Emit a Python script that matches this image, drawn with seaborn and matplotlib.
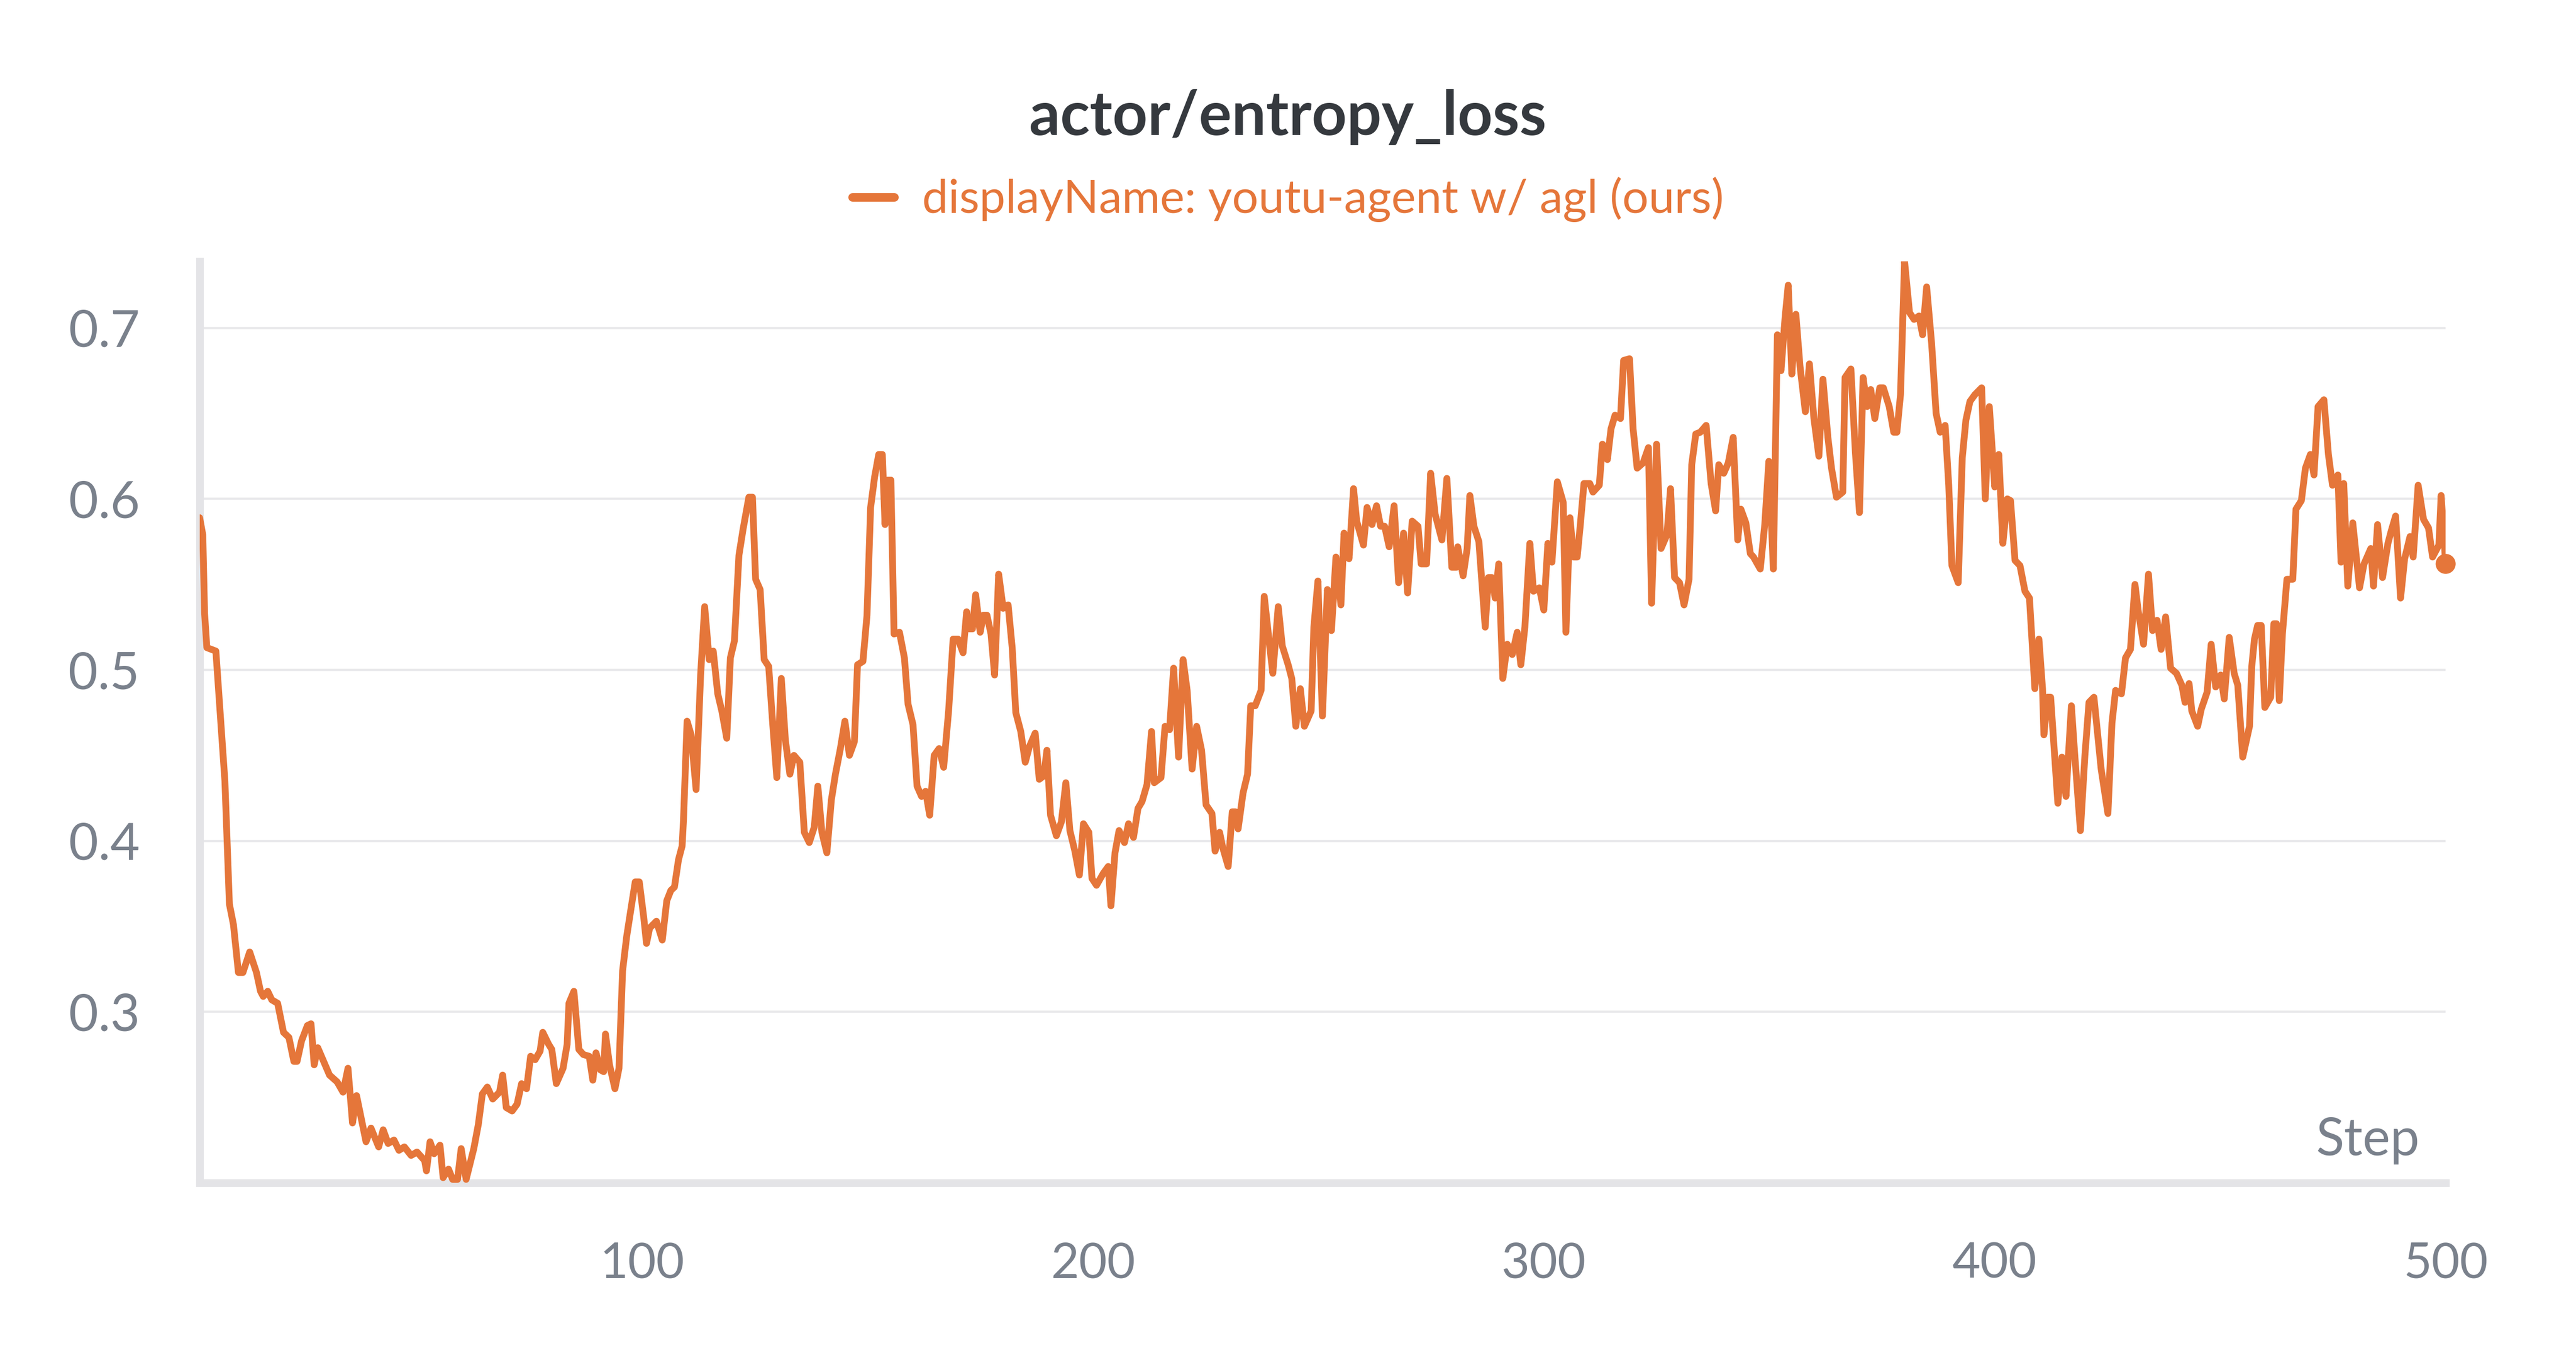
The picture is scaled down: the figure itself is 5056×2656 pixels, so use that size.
import matplotlib
matplotlib.use("Agg")
import matplotlib.pyplot as plt
import pandas as pd
import seaborn as sns

# ---------------- data ----------------
title_text = "actor/entropy_loss"
series_label = "displayName: youtu-agent w/ agl (ours)"
x_axis_label = "Step"

steps = [
    1.9, 2.6, 3.0, 3.5, 4.5, 5.5, 7.5, 8.5, 9.4, 10.5, 11.5, 13.0, 14.5, 15.4, 16.0, 17.0, 17.9, 19.2,
    20.5, 21.7, 22.8, 23.5, 24.5, 25.8, 26.6, 27.3, 28.1, 29.4, 30.7, 32.4, 33.7, 34.8, 35.8, 36.7,
    38.8, 39.9, 41.6, 42.6, 43.7, 45.0, 46.1, 47.3, 48.8, 50.1, 51.8, 52.2, 53.0,
    53.9, 55.2, 55.9, 57.1, 58.0, 59.1, 59.9, 61.0, 62.7, 63.7, 64.6, 65.7, 66.9, 68.4, 69.1, 69.9,
    71.2, 72.3, 73.3, 74.4, 75.3, 76.3, 77.4, 78.0, 79.3, 80.0, 81.0, 82.5, 83.4, 83.8, 84.9, 86.0,
    87.0, 88.3, 89.1, 89.8, 90.8, 91.5, 91.9, 92.8, 94.0, 94.9, 95.7, 96.6, 97.6, 98.5, 99.4, 100.4,
    101.0, 101.7, 103.2, 104.5, 105.5,
    106.4, 107.2, 108.1, 108.9, 109.2, 110.0, 110.9, 112.0, 113.0, 113.9, 114.9, 115.8, 116.8, 117.7,
    118.8, 119.6, 120.5, 121.5, 122.4, 123.7, 124.5, 125.2, 126.2, 127.1, 128.1, 129.0, 129.9, 130.9,
    131.8, 132.8, 133.7, 135.0, 136.0, 137.1, 138.2, 139.0, 139.9, 141.0, 142.0, 142.9, 144.0, 145.0,
    146.0, 147.1, 147.8, 149.0, 149.9, 150.7,
    151.6, 152.5, 153.3, 153.9, 154.4, 155.2, 155.9, 157.1, 158.2, 159.0, 160.1, 161.0, 162.0, 162.9,
    163.8, 164.8, 165.9, 166.9, 168.0, 169.0, 170.1, 171.2, 172.0, 172.5, 173.3, 174.0, 175.0, 175.7,
    176.5, 177.4, 178.2, 179.1, 180.1, 181.2, 182.1, 182.9, 184.0, 185.0, 185.9, 187.2, 188.1, 189.1,
    189.8, 190.6, 191.9, 193.0, 194.0, 194.9, 196.0, 197.0, 197.9, 199.1, 199.8, 200.8,
    202.3, 203.4, 204.0, 204.9, 205.8, 207.0, 207.9, 209.0, 210.0, 210.9, 212.0, 213.0, 213.6, 215.1,
    216.0, 217.0, 217.9, 219.0, 220.0, 220.9, 222.0, 223.0, 224.1, 225.1, 226.4, 227.1, 228.1, 228.8,
    230.0, 230.9, 231.6, 232.2, 233.3, 234.3, 235.0, 236.0, 237.3, 238.0, 239.2, 239.9, 241.1, 242.0,
    243.3, 244.1, 245.0, 246.0, 246.9, 248.4, 249.0, 249.9, 250.9, 252.0, 252.9, 253.9, 255.0,
    255.7, 256.8, 257.8, 258.5, 260.0, 260.8, 261.9, 262.9, 263.8, 264.7, 265.7, 266.8, 267.8, 268.9,
    269.8, 270.8, 272.1, 272.8, 274.0, 274.9, 275.9, 277.4, 278.5, 279.6, 280.6, 280.9, 282.1, 283.0,
    283.6, 284.5, 285.6, 287.0, 287.7, 288.5, 289.2, 290.0, 290.9, 291.9, 293.0, 294.1, 294.9, 295.8,
    296.9, 297.7, 299.0, 300.0, 300.9, 301.8, 303.0,
    304.3, 304.9, 305.8, 306.6, 307.4, 308.1, 308.9, 310.2, 310.9, 312.3, 313.0, 313.6, 314.1, 314.9,
    315.8, 317.0, 317.7, 319.0, 319.8, 320.7, 322.0, 323.2, 323.9, 325.0, 326.0, 327.3, 328.1, 329.0,
    330.1, 331.1, 332.2, 332.8, 333.7, 334.7, 336.0, 337.1, 338.1, 338.8, 339.9, 340.9, 342.0, 343.0,
    343.7, 344.8, 345.8, 346.5, 348.0, 349.0, 349.9, 350.9, 351.8, 352.6, 353.5,
    354.2, 355.0, 355.9, 356.8, 358.0, 358.9, 359.9, 361.0, 361.9, 363.0, 363.8, 364.9, 366.3, 366.8,
    368.1, 369.1, 370.0, 370.8, 371.7, 372.5, 373.4, 374.5, 375.3, 376.6, 377.6, 378.3, 379.1, 380.0,
    381.1, 382.1, 383.2, 384.0, 384.9, 386.0, 387.0, 387.9, 389.0, 389.8, 390.5, 391.9, 392.8, 393.6,
    394.5, 395.6, 397.1, 397.9, 398.8, 400.0, 400.9, 401.8, 402.8, 403.5, 404.5, 405.6, 406.7, 407.7,
    408.9, 409.8, 410.6, 410.9, 411.7, 412.4, 414.0, 414.9, 415.8, 417.0, 417.7, 419.0, 420.0, 420.9,
    422.0, 423.6, 425.1, 426.0, 426.8, 428.1, 429.0, 430.1, 431.1, 431.8, 433.0, 434.1, 435.0, 436.0,
    436.9, 437.9, 439.0, 440.3, 441.5, 442.2, 443.1, 443.7, 445.0, 445.8, 447.1, 448.0, 449.0, 450.1,
    450.9, 452.0, 453.1, 453.9, 455.0,
    456.5, 457.0, 457.6, 458.3, 459.1, 459.9, 461.2, 461.9, 462.5, 463.1, 463.8, 464.8, 466.1, 466.8,
    468.0, 468.9, 470.0, 470.8, 471.7, 473.0, 474.0, 474.9, 476.1, 476.8, 477.4, 478.3, 479.4, 480.9,
    481.9, 483.4, 484.0, 484.9, 486.0, 487.2, 487.9, 488.9, 490.0, 490.9, 492.1, 492.8, 493.9, 495.1,
    496.2, 497.1, 498.5, 499.0, 500.0,
]

entropy_loss = [
    0.589, 0.579, 0.533, 0.513, 0.512, 0.511, 0.435, 0.363, 0.351, 0.323, 0.323, 0.335, 0.323, 0.312, 0.309, 0.312, 0.307, 0.305,
    0.288, 0.285, 0.271, 0.271, 0.283, 0.292, 0.293, 0.269, 0.279, 0.271, 0.263, 0.259, 0.253, 0.267, 0.235, 0.251,
    0.224, 0.232, 0.221, 0.231, 0.223, 0.225, 0.219, 0.221, 0.216, 0.218, 0.213, 0.207, 0.224,
    0.217, 0.222, 0.203, 0.208, 0.202, 0.202, 0.220, 0.202, 0.220, 0.234, 0.252, 0.256, 0.249, 0.253, 0.263, 0.244,
    0.242, 0.246, 0.258, 0.255, 0.274, 0.272, 0.277, 0.288, 0.281, 0.278, 0.258, 0.267, 0.281, 0.305, 0.312, 0.278,
    0.275, 0.274, 0.260, 0.276, 0.266, 0.265, 0.287, 0.269, 0.255, 0.267, 0.324, 0.344, 0.361, 0.376, 0.376, 0.355,
    0.340, 0.349, 0.353, 0.342, 0.365,
    0.371, 0.373, 0.389, 0.397, 0.412, 0.470, 0.462, 0.430, 0.497, 0.537, 0.506, 0.511, 0.486, 0.476,
    0.460, 0.507, 0.517, 0.567, 0.582, 0.601, 0.601, 0.553, 0.547, 0.506, 0.502, 0.468, 0.437, 0.495,
    0.459, 0.439, 0.450, 0.446, 0.405, 0.399, 0.408, 0.432, 0.405, 0.393, 0.424, 0.439, 0.454, 0.470,
    0.450, 0.458, 0.503, 0.505, 0.532, 0.595,
    0.613, 0.626, 0.626, 0.585, 0.611, 0.611, 0.521, 0.522, 0.507, 0.480, 0.468, 0.432, 0.426, 0.429,
    0.415, 0.450, 0.454, 0.443, 0.476, 0.518, 0.518, 0.510, 0.534, 0.524, 0.524, 0.544, 0.522, 0.532,
    0.532, 0.521, 0.497, 0.556, 0.536, 0.538, 0.513, 0.475, 0.464, 0.446, 0.455, 0.463, 0.436, 0.438,
    0.453, 0.415, 0.403, 0.411, 0.434, 0.406, 0.394, 0.380, 0.410, 0.405, 0.378, 0.374,
    0.381, 0.385, 0.362, 0.393, 0.406, 0.399, 0.410, 0.402, 0.419, 0.423, 0.433, 0.464, 0.434, 0.437,
    0.467, 0.465, 0.501, 0.449, 0.506, 0.488, 0.442, 0.467, 0.453, 0.421, 0.416, 0.394, 0.405, 0.396,
    0.385, 0.417, 0.417, 0.407, 0.428, 0.439, 0.479, 0.479, 0.488, 0.543, 0.514, 0.498, 0.537, 0.514,
    0.503, 0.495, 0.467, 0.489, 0.467, 0.476, 0.525, 0.552, 0.473, 0.547, 0.523, 0.566, 0.538,
    0.580, 0.565, 0.606, 0.587, 0.573, 0.595, 0.585, 0.596, 0.584, 0.584, 0.572, 0.596, 0.551, 0.580,
    0.545, 0.587, 0.584, 0.562, 0.562, 0.615, 0.591, 0.576, 0.612, 0.560, 0.560, 0.572, 0.555, 0.571,
    0.602, 0.584, 0.575, 0.525, 0.554, 0.554, 0.542, 0.562, 0.495, 0.515, 0.509, 0.522, 0.503, 0.525,
    0.574, 0.546, 0.548, 0.535, 0.574, 0.563, 0.610,
    0.598, 0.522, 0.589, 0.566, 0.566, 0.585, 0.609, 0.609, 0.604, 0.608, 0.632, 0.630, 0.623, 0.641,
    0.649, 0.647, 0.681, 0.682, 0.641, 0.618, 0.621, 0.630, 0.539, 0.632, 0.571, 0.579, 0.606, 0.554,
    0.551, 0.538, 0.553, 0.620, 0.638, 0.639, 0.643, 0.609, 0.593, 0.620, 0.615, 0.621, 0.636, 0.576,
    0.594, 0.586, 0.568, 0.566, 0.559, 0.585, 0.622, 0.559, 0.696, 0.675, 0.706,
    0.725, 0.673, 0.708, 0.678, 0.651, 0.679, 0.647, 0.625, 0.670, 0.636, 0.618, 0.601, 0.604, 0.671,
    0.676, 0.627, 0.592, 0.671, 0.654, 0.664, 0.647, 0.665, 0.665, 0.654, 0.639, 0.639, 0.661, 0.739,
    0.709, 0.705, 0.707, 0.696, 0.724, 0.691, 0.650, 0.639, 0.643, 0.608, 0.561, 0.551, 0.624, 0.646,
    0.657, 0.661, 0.665, 0.600, 0.654, 0.607, 0.626, 0.574, 0.600, 0.599, 0.564, 0.561, 0.546, 0.542,
    0.489, 0.518, 0.489, 0.462, 0.484, 0.484, 0.422, 0.449, 0.426, 0.479, 0.452, 0.406, 0.450, 0.481,
    0.484, 0.442, 0.416, 0.469, 0.488, 0.486, 0.507, 0.512, 0.550, 0.535, 0.515, 0.556, 0.523, 0.529,
    0.512, 0.531, 0.501, 0.498, 0.491, 0.481, 0.492, 0.476, 0.467, 0.477, 0.487, 0.515, 0.490, 0.497,
    0.483, 0.519, 0.498, 0.491, 0.449,
    0.467, 0.502, 0.518, 0.526, 0.526, 0.478, 0.484, 0.527, 0.527, 0.482, 0.521, 0.553, 0.553, 0.594,
    0.599, 0.618, 0.626, 0.614, 0.654, 0.658, 0.626, 0.608, 0.614, 0.563, 0.609, 0.549, 0.586, 0.548,
    0.562, 0.571, 0.549, 0.585, 0.554, 0.574, 0.581, 0.590, 0.542, 0.565, 0.578, 0.566, 0.608, 0.588,
    0.583, 0.566, 0.573, 0.602, 0.562,
]

x_ticks = [100, 200, 300, 400, 500]
x_tick_labels = ["100", "200", "300", "400", "500"]
y_ticks = [0.3, 0.4, 0.5, 0.6, 0.7]
y_tick_labels = ["0.3", "0.4", "0.5", "0.6", "0.7"]
y_limits = [0.2, 0.739]

# ---------------- style ----------------
ORANGE = "#e5763a"
AXIS_GREY = "#e4e4e7"
GRID_GREY = "#e9e9eb"
TEXT_GREY = "#7a818c"
TITLE_COLOR = "#35393e"

sns.set_theme(style="white")
plt.rcParams["font.family"] = ["Lato", "DejaVu Sans"]

fig = plt.figure(figsize=(15.8, 8.3), dpi=320)
ax = fig.add_axes([0.0775, 0.1258, 0.9494 - 0.0775, 0.8069 - 0.1258])

df = pd.DataFrame({"Step": steps, "value": entropy_loss})
sns.lineplot(data=df, x="Step", y="value", ax=ax, color=ORANGE, linewidth=3.0,
             estimator=None, sort=False, label=series_label, zorder=3)
sns.scatterplot(x=df["Step"].iloc[-1:], y=df["value"].iloc[-1:], ax=ax, color=ORANGE,
                s=78, edgecolor="none", zorder=4, legend=False, clip_on=False)

ax.set_xlim(steps[0], x_ticks[-1])
ax.set_ylim(*y_limits)
ax.set_xticks(x_ticks)
ax.set_xticklabels(x_tick_labels)
ax.set_yticks(y_ticks)
ax.set_yticklabels(y_tick_labels)
ax.set_xlabel("")
ax.set_ylabel("")

ax.grid(axis="y", color=GRID_GREY, linewidth=1.0)
ax.grid(axis="x", visible=False)
ax.set_axisbelow(True)

for side in ["top", "right"]:
    ax.spines[side].set_visible(False)
for side in ["left", "bottom"]:
    ax.spines[side].set_color(AXIS_GREY)
    ax.spines[side].set_linewidth(3.4)

ax.tick_params(axis="x", direction="inout", length=22, width=1.8, color=AXIS_GREY,
               pad=15, labelsize=21.5, labelcolor=TEXT_GREY)
ax.tick_params(axis="y", direction="inout", length=21, width=1.2, color=AXIS_GREY,
               pad=16, labelsize=22.5, labelcolor=TEXT_GREY)

ax.text(0.9885, 0.030, x_axis_label, transform=ax.transAxes, ha="right", va="baseline",
        fontsize=23, color=TEXT_GREY)

# title
fig.text(0.5, 1 - 265 / 2656, title_text, ha="center", va="baseline",
         fontsize=27, fontweight="bold", color=TITLE_COLOR)

# legend
handles, labels = ax.get_legend_handles_labels()
ax.get_legend().remove()
leg = fig.legend(handles, labels, loc="center", bbox_to_anchor=(0.5, 1 - 392 / 2656),
                 frameon=False, fontsize=20.5, handlelength=0.9, handletextpad=0.6,
                 labelcolor=ORANGE, borderaxespad=0, borderpad=0)
for ln in leg.get_lines():
    ln.set_linewidth(3.8)
    ln.set_solid_capstyle("round")

fig.savefig("out.png", dpi=320)
